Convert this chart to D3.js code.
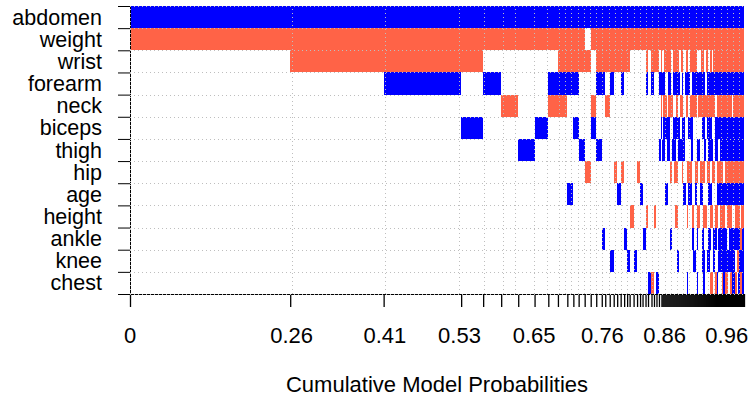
<!DOCTYPE html>
<html><head><meta charset="utf-8">
<script src="https://cdn.jsdelivr.net/npm/d3@7"></script>
<style>body{margin:0;background:#fff} svg{display:block}</style>
</head><body><svg id="chart" width="749" height="405"></svg>
<script>
// Variables (rows), top to bottom
const variables = ["abdomen","weight","wrist","forearm","neck","biceps","thigh","hip","age","height","ankle","knee","chest"];

// Posterior model probabilities of the best models
const headProbs = [0.2577,0.1503,0.1247,0.0354,0.0290,0.0274,0.0263,0.0221,0.0155,0.0151,0.0097,0.0085,0.0097,0.0097,0.0089,
  0.0089,0.0056,0.0072,0.0064,0.0056,0.0056,0.0056,0.0048,0.0040,0.0064,0.0056,0.0048,0.0040,0.0048,0.0040,0.0056,0.0040,0.0040,0.0040,0.0040];
const tailProbs = [
  0.0016,0.0016,0.0016,0.0016,0.0016,0.0016,0.0016,0.0016,0.0016,0.0016,
  0.0016,0.0016,0.0016,0.0016,0.0016,0.0016,0.0016,0.0016,0.0016,0.0016,
  0.0016,0.0016,0.0016,0.0016,0.0016,0.0016,0.0016,0.0016,0.0016,0.0016,
  0.0016,0.0016,0.0016,0.0016,0.0016,0.0016,0.0016,0.0016,0.0016,0.0016,
  0.0016,0.0016,0.0016,0.0016,0.0016,0.0016,0.0016,0.0016,0.0016,0.0016,
  0.0016,0.0016,0.0016,0.0016,0.0016,0.0016,0.0016,0.0016,0.0016,0.0016,
  0.0016,0.0016,0.0016,0.0016,0.0016,0.0016,0.0016,0.0016,0.0016,0.0016,
  0.0016,0.0016,0.0016,0.0016,0.0016,0.0016,0.0016,0.0016,0.0016,0.0016,
  0.0016,0.0016,0.0016];

// Coefficient signs per variable across models, run-length coded:
// "+n" positive in n consecutive models, "-n" negative, "0n" not included
const headRuns = [
  "+35",
  "-13 01 -21",
  "01 -3 05 -5 01 -9 05 -1 01 -3 01",
  "02 +1 01 +1 03 +4 03 +2 01 +1 02 +1 07 +1 01 +1 02 +1",
  "05 -1 02 -2 04 -1 02 -1 017",
  "03 +1 03 +1 03 +1 02 +1 020",
  "06 +1 05 +1 02 +1 018 +1",
  "013 -1 05 -1 01 -1 04 -1 08",
  "010 +1 09 +1 06 +1 07",
  "024 -1 04 -1 02 -1 02",
  "016 +1 05 +1 05 +1 06",
  "018 +1 04 +1 01 +1 09",
  "030 +1 -1 01 +1 01"
];
const tailRuns = [
  "+83",
  "-83",
  "-1 02 -7 02 -6 02 -2 03 -2 02 -7 04 -3 02 -2 02 -2 01 -31",
  "+4 03 +3 02 +7 02 +1 02 +5 02 +13 02 +37",
  "-1 01 -4 01 -5 03 -2 02 -3 03 -2 02 -7 01 -17 02 -15 01 -11",
  "+1 01 +7 03 +7 02 +3 03 +5 09 +3 02 +5 03 +29",
  "01 +3 02 +3 02 +4 02 +7 06 +2 04 +3 04 +2 02 +5 02 +3 02 +24",
  "09 -2 02 -4 04 -1 04 -5 03 -3 02 -5 02 -3 02 -3 02 -6 02 -19",
  "04 +3 015 +3 02 +4 03 +2 03 +3 05 +4 05 +27",
  "014 -3 09 -1 04 -2 03 -3 03 -4 03 -3 02 -3 02 -5 02 -5 03 -5 01 -3",
  "09 +2 020 +2 03 +1 04 +2 04 +3 02 +4 01 +9 02 +11 -2 +2",
  "016 +2 014 +3 06 +3 02 +3 03 +2 03 +17 02 -2 +5",
  "026 +1 09 +1 05 +2 05 -3 02 -2 +1 04 -1 +2 -3 02 -2 +3 -2 01 +2 -2 +2"
];

const tickLabels = [0, 0.26, 0.41, 0.53, 0.65, 0.76, 0.86, 0.96];
const axisTitle = "Cumulative Model Probabilities";
const posColor = "#0000FF", negColor = "#FF6347";

function decodeRuns(s) {
  return s.trim().split(/\s+/).map(t => t[0].repeat(+t.slice(1))).join("");
}

const probs = headProbs.concat(tailProbs);
const cum = [0];
probs.forEach(p => cum.push(cum[cum.length - 1] + p));
const total = cum[cum.length - 1];

const svg = d3.select("#chart");
const font = "'Liberation Sans', Arial, Helvetica, sans-serif";
const plotL = 130, plotR = 744, plotT = 6, plotB = 294;

const x = d3.scaleLinear().domain([0, total]).range([plotL, plotR]);
const yBand = d3.scaleBand().domain(variables).range([plotT, plotB]).padding(0);
const yEdge = d3.scaleLinear().domain([0, variables.length]).range([plotT, plotB]);

// cells (merge consecutive equal signs per row)
const cells = [];
variables.forEach((v, i) => {
  const s = decodeRuns(headRuns[i]) + decodeRuns(tailRuns[i]);
  if (s.length !== probs.length) console.error("length mismatch", v, s.length, probs.length);
  let j = 0;
  while (j < s.length) {
    let k = j;
    while (k + 1 < s.length && s[k + 1] === s[j]) k++;
    if (s[j] !== "0") cells.push({ v, sign: s[j], a: cum[j], b: cum[k + 1] });
    j = k + 1;
  }
});

svg.append("g").attr("shape-rendering", "crispEdges")
  .selectAll("rect").data(cells).join("rect")
  .attr("x", d => x(d.a))
  .attr("width", d => Math.max(0.6, x(d.b) - x(d.a)))
  .attr("y", d => yBand(d.v))
  .attr("height", yBand.bandwidth())
  .attr("fill", d => d.sign === "+" ? posColor : negColor);

// bottom axis: tick at every model boundary
const xAxis = d3.axisBottom(x).tickValues(cum).tickFormat("").tickSizeInner(13).tickSizeOuter(0);
const gx = svg.append("g").attr("transform", `translate(0,${plotB})`).call(xAxis);
gx.selectAll("path").attr("stroke", "#000").attr("stroke-width", 1);
gx.selectAll("line").attr("stroke", "#000").attr("stroke-width", 1.3);

// left axis: ticks at row boundaries
const yAxis = d3.axisLeft(yEdge).tickValues(d3.range(variables.length + 1)).tickFormat("").tickSizeInner(12).tickSizeOuter(0);
const gy = svg.append("g").attr("transform", `translate(${plotL},0)`).call(yAxis);
gy.selectAll("line,path").attr("stroke", "#000").attr("stroke-width", 1);

// grid (dotted grey), vertical lines at rounded cumulative probabilities
const gridX = Array.from(new Set(cum.map(c => Math.round(c * 100) / 100))).filter(g => x(g) <= plotR + 0.5);
const grid = svg.append("g").attr("stroke", "#BEBEBE").attr("stroke-width", 1).attr("stroke-dasharray", "1,3");
grid.selectAll("line.v").data(gridX).join("line").attr("class", "v")
  .attr("x1", d => Math.round(x(d)) + 0.5).attr("x2", d => Math.round(x(d)) + 0.5)
  .attr("y1", plotB).attr("y2", plotT);
grid.selectAll("line.h").data(d3.range(variables.length + 1)).join("line").attr("class", "h")
  .attr("x1", plotL).attr("x2", plotR)
  .attr("y1", d => Math.round(yEdge(d)) + 0.5).attr("y2", d => Math.round(yEdge(d)) + 0.5);

// row labels
svg.append("g").selectAll("text").data(variables).join("text")
  .attr("x", 102)
  .attr("y", d => yBand(d) + yBand.bandwidth() / 2 + 7.5)
  .attr("text-anchor", "end")
  .attr("font-family", font).attr("font-size", 21.5).attr("fill", "#000")
  .text(d => d);

// tick labels
svg.append("g").selectAll("text").data(tickLabels).join("text")
  .attr("x", d => x(d)).attr("y", 343)
  .attr("text-anchor", "middle")
  .attr("font-family", font).attr("font-size", 22).attr("fill", "#000")
  .text(d => d === 0 ? "0" : d.toFixed(2));

// axis title
svg.append("text")
  .attr("x", (plotL + plotR) / 2).attr("y", 392)
  .attr("text-anchor", "middle")
  .attr("font-family", font).attr("font-size", 22).attr("fill", "#000")
  .text(axisTitle);
</script>
</body></html>
